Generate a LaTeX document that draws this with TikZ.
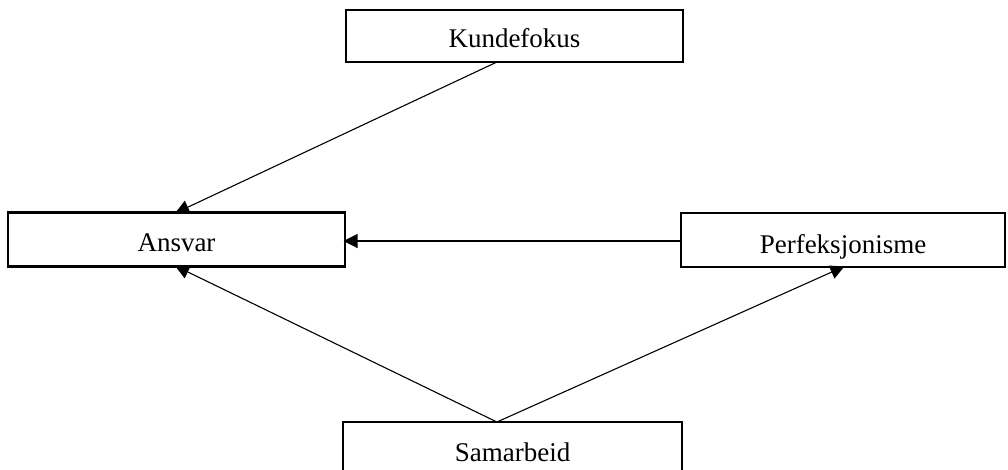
\documentclass[tikz,border=0pt]{standalone}
\usepackage{fontspec}
\setmainfont{Liberation Serif}
\usetikzlibrary{arrows.meta,calc}
\tikzset{
  factor/.style={draw=black, line width=2.6pt, rectangle, inner sep=0pt, outer sep=0pt,
    minimum width=#1, font=\fontsize{27}{30}\selectfont, text height=39pt, text depth=15pt},
  link/.style={line width=1.1pt, -{Triangle[length=14pt,width=14pt]}, shorten >=-1.5pt}
}
\begin{document}
\begin{tikzpicture}[x=1pt,y=-1pt]
\useasboundingbox (0,0) rectangle (1008,470);
\node[factor=337pt, text height=38pt, text depth=14pt] (kunde) at (514.5,36) {Kundefokus};
\node[factor=337pt] (ansvar) at (176.5,239.5) {Ansvar};
\node[factor=324pt, text height=40pt, text depth=14pt] (perf) at (843,240) {Perfeksjonisme};
\node[factor=339pt] (sam) at (512.5,449) {Samarbeid};
\draw[link] ($(kunde.south west)!0.448!(kunde.south east)$) -- (ansvar.north);
\draw[link] ($(perf.west)+(0,1)$) -- ($(ansvar.east)+(0,1.5)$);
\draw[link] ($(sam.north west)!0.454!(sam.north east)$) -- (ansvar.south);
\draw[link] ($(sam.north west)!0.454!(sam.north east)$) -- (perf.south);
\end{tikzpicture}
\end{document}
